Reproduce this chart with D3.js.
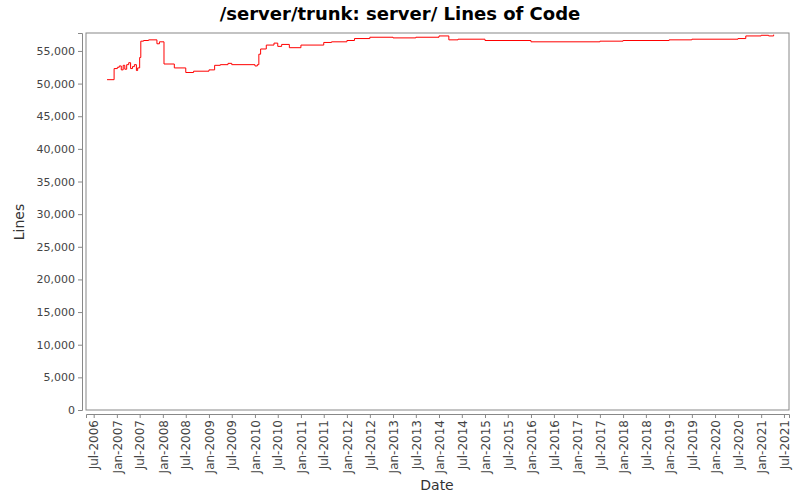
<!DOCTYPE html>
<html><head><meta charset="utf-8">
<script src="https://cdn.jsdelivr.net/npm/d3@7"></script>
<style>body{margin:0;background:#fff;font-family:"DejaVu Sans",sans-serif}</style>
</head><body><svg id="c" width="800" height="500"></svg>
<script>
// Lines of code over time (step series)
const dates = ["2006-10-15","2006-12-10","2007-01-05","2007-01-20","2007-02-05","2007-02-20","2007-03-05","2007-03-20","2007-04-05","2007-04-20","2007-05-05","2007-05-20","2007-06-05","2007-06-15","2007-07-01","2007-07-10","2007-08-01","2007-09-10","2007-11-15","2007-12-05","2008-01-10","2008-04-01","2008-07-01","2008-09-01","2009-01-01","2009-02-15","2009-04-01","2009-06-01","2009-07-01","2010-01-01","2010-01-20","2010-02-01","2010-02-15","2010-04-01","2010-06-01","2010-07-01","2010-08-01","2010-10-01","2011-01-01","2011-07-01","2011-09-01","2012-01-01","2012-03-01","2012-07-01","2013-01-01","2013-07-01","2014-01-01","2014-03-20","2014-06-01","2015-01-01","2016-01-01","2017-07-01","2018-01-01","2019-01-01","2019-07-01","2020-07-01","2020-09-01","2021-01-01","2021-03-01","2021-04-10"];
const lines = [50600,52300,52500,52700,52100,52800,52200,52900,53200,52300,52600,52900,52000,52400,54000,56500,56600,56700,56100,56400,53000,52400,51700,51900,52100,52800,52900,53100,52900,52700,52900,54500,55300,55900,56200,55700,56000,55500,55900,56300,56400,56600,56900,57100,57000,57100,57300,56700,56800,56600,56400,56500,56600,56700,56800,56900,57300,57400,57300,57500];
const yTicks = d3.range(0, 55001, 5000);
const xTicks = d3.range(0, 31).map(i => new Date(2006 + Math.floor((i + 1) / 2), (i % 2 === 0) ? 6 : 0, 1));

const svg = d3.select("#c");
const L = 86, R = 789, T = 33, B = 410;
const x = d3.scaleTime().domain([new Date(2006, 4, 1), new Date(2021, 7, 10)]).range([L, R]);
const y = d3.scaleLinear().domain([0, 57750]).range([B, T]);
const parse = d3.timeParse("%Y-%m-%d");
const pts = dates.map((d, i) => [parse(d), lines[i]]);

svg.append("text").attr("x", 400).attr("y", 20).attr("text-anchor", "middle")
  .attr("font-size", 18).attr("font-weight", "bold").text("/server/trunk: server/ Lines of Code");

svg.append("rect").attr("x", L).attr("y", T).attr("width", R - L).attr("height", B - T)
  .attr("fill", "#fff").attr("stroke", "#888");

const ya = svg.append("g").attr("transform", `translate(${L - 4},0)`)
  .call(d3.axisLeft(y).tickValues(yTicks).tickSize(4).tickPadding(3).tickFormat(d3.format(",")));
const xa = svg.append("g").attr("transform", `translate(0,${B + 4})`)
  .call(d3.axisBottom(x).tickValues(xTicks).tickSize(4).tickFormat(d3.timeFormat("%b-%Y")));
[ya, xa].forEach(a => {
  a.selectAll("path,line").attr("stroke", "#888");
  a.selectAll("text").attr("fill", "#444").attr("font-size", 11).attr("font-family", "DejaVu Sans");
});
xa.selectAll("text").attr("font-size", 12).attr("transform", "rotate(-90)").attr("text-anchor", "end")
  .attr("x", -6).attr("y", 0).attr("dy", "0.35em");

svg.append("path").datum(pts).attr("fill", "none").attr("stroke", "red").attr("stroke-width", 1)
  .attr("d", d3.line().x(d => x(d[0])).y(d => y(d[1])).curve(d3.curveStepAfter));

svg.append("text").attr("x", 437).attr("y", 490).attr("text-anchor", "middle")
  .attr("font-size", 14).attr("fill", "#333").text("Date");
svg.append("text").attr("transform", "translate(24,222) rotate(-90)").attr("text-anchor", "middle")
  .attr("font-size", 14).attr("fill", "#333").text("Lines");
</script></body></html>
